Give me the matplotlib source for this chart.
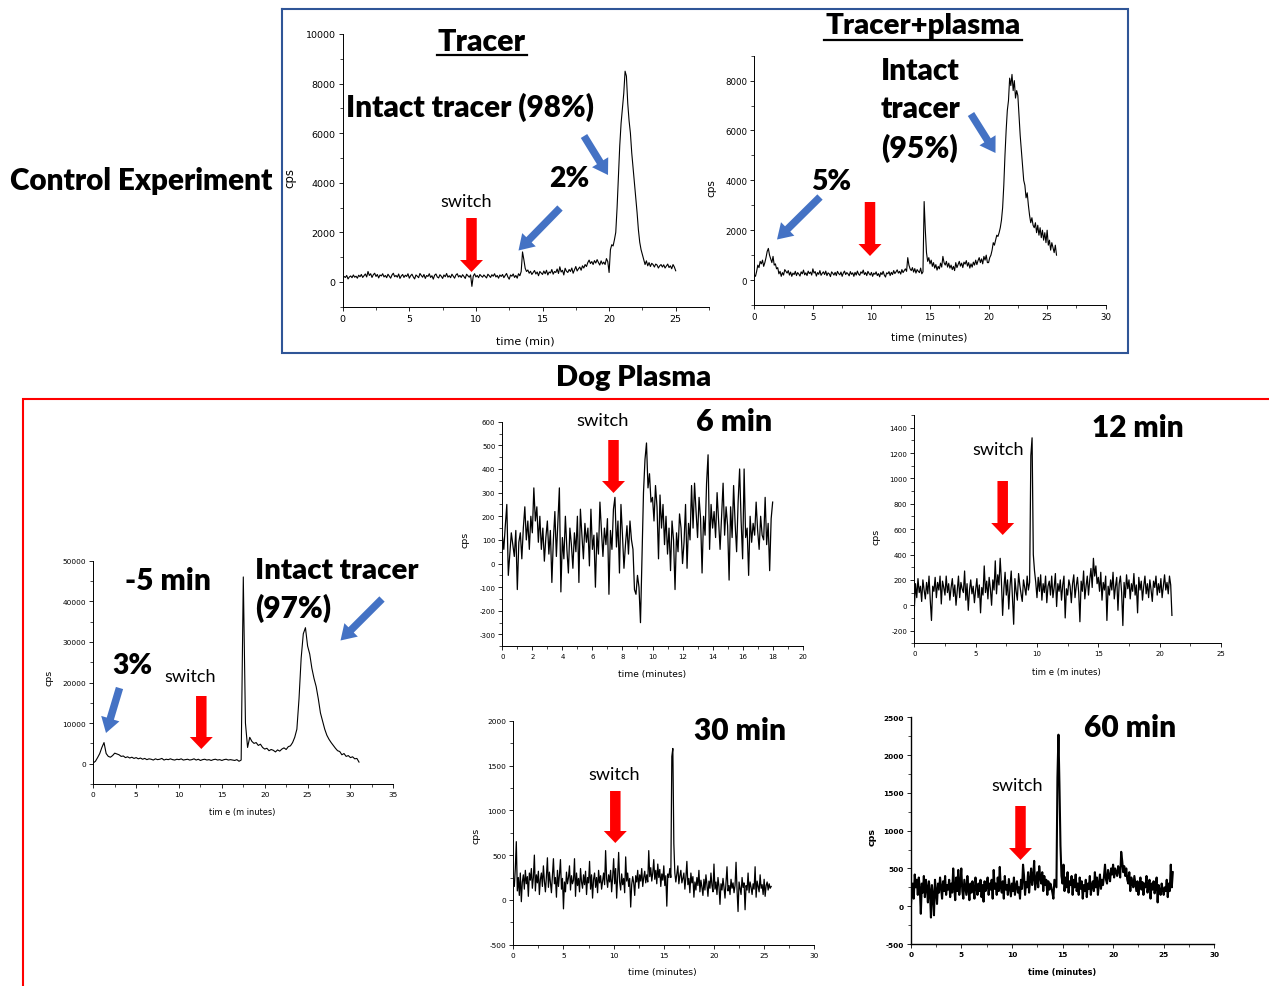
import numpy as np
import matplotlib
matplotlib.use("Agg")
import matplotlib.pyplot as plt
from matplotlib.ticker import MultipleLocator, FormatStrFormatter
from matplotlib.patches import FancyArrow

# ---------------------------------------------------------------- data
# Radio-chromatograms, counts per second sampled on a regular time grid.

tracer_step = 0.1
tracer_cps = [
    150, 220, 180, 260, 120, 200, 240, 170, 280, 190,
    230, 150, 270, 210, 300, 180, 250, 320, 200, 420,
    260, 330, 180, 290, 350, 220, 300, 160, 280, 240,
    330, 200, 260, 170, 310, 230, 150, 280, 350, 210,
    260, 190, 320, 140, 240, 300, 180, 270, 220, 330,
    150, 250, 310, 200, 120, 280, 230, 170, 340, 260,
    190, 300, 140, 260, 220, 330, 180, 250, 110, 270,
    320, 200, 160, 290, 230, 140, 280, 210, 340, 190,
    250, 170, 310, 230, 150, 280, 330, 200, 260, 180,
    290, 220, 140, 310, 250, 190, 280, -180, 230, 330,
    200, 260, 170, 300, 240, 190, 280, 220, 160, 310,
    250, 180, 290, 230, 330, 200, 260, 150, 280, 220,
    300, 170, 260, 340, 200, 110, 280, 230, 320, 180,
    260, 150, 330, 250, 420, 1210, 900, 550, 420, 480,
    350, 430, 300, 380, 460, 320, 400, 250, 420, 360,
    300, 440, 330, 470, 280, 400, 360, 500, 310, 420,
    380, 520, 340, 610, 400, 470, 280, 550, 430, 380,
    500, 420, 560, 350, 480, 620, 440, 530, 600, 470,
    650, 560, 700, 620, 780, 880, 740, 820, 700, 860,
    760, 900, 780, 680, 850, 720, 800, 700, 940, 820,
    380, 1300, 1500, 1450, 1700, 2000, 3000, 4300, 5500, 6400,
    7000, 7600, 8500, 8300, 7200, 6500, 6000, 5200, 4600, 4000,
    3400, 2800, 2100, 1600, 1300, 1100, 900, 700, 850, 650,
    780, 620, 750, 700, 600, 720, 680, 560, 650, 700,
    600, 690, 560, 640, 720, 580, 650, 530, 700, 600,
    450,
]

plasma_mix_step = 0.1
plasma_mix_cps = [
    200, 150, 350, 600, 500, 750, 650, 800, 550, 700,
    900, 1150, 1270, 1000, 850, 700, 950, 600, 650, 450,
    500, 250, 350, 150, 300, 200, 420, 350, 280, 380,
    200, 320, 150, 280, 220, 350, 180, 300, 240, 160,
    330, 250, 400, 210, 290, 180, 360, 260, 320, 200,
    450, 280, 340, 160, 300, 230, 380, 190, 270, 330,
    220, 360, 180, 290, 250, 140, 330, 270, 200, 310,
    180, 350, 260, 210, 320, 150, 280, 360, 220, 300,
    250, 170, 340, 230, 290, 150, 310, 200, 360, 240,
    190, 330, 270, 400, 220, 300, 180, 350, 260, 200,
    310, 150, 280, 230, 330, 180, 260, 130, 300, 220,
    350, 200, 120, 290, 250, 340, 180, 310, 220, 380,
    260, 330, 410, 280, 350, 240, 420, 300, 380, 450,
    350, 900, 600, 450, 380, 500, 320, 460, 280, 420,
    350, 300, 480, 250, 330, 3150, 2000, 1100, 750, 900,
    650, 800, 550, 700, 480, 620, 400, 550, 450, 680,
    520, 950, 700, 600, 750, 520, 680, 480, 600, 420,
    550, 380, 700, 500, 620, 750, 560, 680, 500, 720,
    640, 780, 560, 700, 480, 650, 520, 720, 600, 800,
    620, 780, 900, 700, 850, 650, 950, 800, 1000, 700,
    700, 900, 1000, 1200, 1500, 1400, 1600, 1800, 1750, 1900,
    2100, 2400, 2900, 3800, 5000, 6000, 6800, 7200, 8100, 7800,
    8250, 7600, 8000, 7300, 7600, 7400, 6600, 5800, 5200, 4600,
    4000, 3800, 3300, 3500, 3000, 2600, 2300, 2500, 2200, 2100,
    2300, 1900, 2200, 1800, 2100, 1700, 2000, 1600, 1900, 1500,
    2000, 1400, 1600, 1200, 1500, 1300, 1100, 1400, 1000,
]

dog_m5_step = 0.25
dog_m5_cps = [
    200, 600, 1500, 2500,
    4000, 5200, 2500, 1800,
    1600, 2000, 2600, 2400,
    2200, 1800, 1900, 1500,
    1700, 1400, 1600, 1300,
    1500, 1200, 1400, 1100,
    1300, 1000, 1200, 1100,
    900, 1200, 1000, 1100,
    1300, 900, 1100, 1000,
    1200, 1000, 900, 1100,
    1000, 1200, 900, 1000,
    1100, 900, 1000, 1200,
    900, 1100, 800, 1000,
    1100, 900, 1000, 800,
    1000, 1100, 900, 1000,
    800, 1000, 1100, 900,
    1000, 900, 800, 1000,
    600, 900, 46000, 10000,
    4000, 6500, 5500, 5000,
    5200, 4500, 4800, 4000,
    3600, 3800, 3200, 3500,
    3300, 2900, 3400, 3100,
    3600, 3900, 3500, 4200,
    4400, 5200, 6500, 8500,
    16000, 26000, 32000, 33500,
    29000, 27000, 23500, 21000,
    19000, 16000, 12500, 10500,
    8500, 7000, 6000, 5200,
    4500, 3800, 3200, 3000,
    2200, 2500, 1800, 2000,
    1500, 1700, 1200, 1300,
    400,
]

dog_6_step = 0.1
dog_6_cps = [
    120, 60, 160, 250, -50, 40, 130, 80, 30, 140,
    -110, 90, 130, 20, 150, 240, 100, 180, 60, 200,
    130, 320, 180, 240, 90, 200, 60, 150, 10, 110,
    180, 40, 140, -80, 100, 220, 30, 170, 320, -120,
    110, 20, 200, 60, -40, 150, 80, -20, 130, 50,
    200, -80, 230, 120, 20, 170, 90, 150, -10, 230,
    60, 120, -100, 130, 40, 260, 140, 30, 150, 80,
    190, -130, 140, 60, 230, 280, 70, 180, -40, 250,
    120, -20, 80, 160, 40, 180, 100, 60, -110, -130,
    -50, -100, -250, 20, 300, 440, 510, 320, 380, 260,
    280, 180, 330, 240, 20, 290, 150, 250, 80, 200,
    40, 150, -30, 180, 100, -110, 130, 50, 210, 150,
    0, 90, 250, -20, 170, 100, 330, 150, 340, 220,
    110, 280, 190, -40, 200, 120, 340, 460, 60, 250,
    150, 220, 110, 300, 180, 60, 200, 340, 120, 240,
    160, -70, 240, 110, 330, 170, 50, 260, 400, 180,
    20, 400, 110, 150, -50, 200, 90, 170, 120, 260,
    140, 60, 200, 120, 100, 280, 80, 170, -30, 190,
    260,
]

dog_12_step = 0.1
dog_12_cps = [
    -30, 170, 60, 210, 100, 150, 30, 200, 120, 50,
    180, 90, 230, 40, -120, 150, 110, 220, 60, 180,
    120, 230, 10, 190, 140, 80, 230, 100, 170, 40,
    140, 210, 70, 160, 0, 110, 230, 60, 180, 130,
    100, 270, 40, 170, -40, 120, 200, 90, 150, 20,
    120, 210, 60, 160, -60, 140, 80, 310, 100, 190,
    50, 220, 130, 0, 200, 120, 350, 90, 240, 160,
    370, 190, -80, 130, 260, 80, 200, -30, 150, 270,
    60, -150, 210, 110, 40, 250, 160, 90, 30, 200,
    140, 80, 230, 120, 180, 1180, 1320, 400, 270, 180,
    60, 220, 110, 240, 40, 170, 100, 230, 20, 150,
    190, 80, 230, 60, 140, 250, -10, 170, 110, 200,
    40, 160, 230, -100, 130, 80, 200, 150, 20, 170,
    240, 60, 150, 220, 100, -130, 190, 110, 270, 50,
    150, 230, 80, 200, 290, 140, 370, 230, 310, 170,
    220, 110, 260, 40, 180, 120, 230, -120, 150, 80,
    200, 120, 260, 50, 150, 220, -40, 170, 230, 100,
    -160, 180, 60, 240, 130, 200, 50, 170, 110, 250,
    80, 160, -60, 220, 120, 190, 40, 150, 230, 90,
    170, 60, 200, 120, 30, 190, 140, 230, 80, 170,
    100, 210, 60, 150, 240, 120, 180, 90, 230, 160,
    -80,
]

dog_30_step = 0.1
dog_30_cps = [
    200, 150, 350, 650, 100, 250, 50, 300, -20, 200,
    280, 120, 330, 180, 260, 40, 300, 220, 350, 130,
    250, 500, 100, 280, 190, 320, 60, 230, 300, 150,
    380, 210, 90, 260, 470, 140, 310, 200, 80, 270,
    460, 180, 250, 30, 330, 150, 280, 450, 120, 240,
    -100, 200, 90, 310, 180, 250, 380, 110, 270, 180,
    220, 460, 40, 300, 160, 240, 90, 350, 200, 130,
    280, 170, 320, 60, 250, 190, 430, 120, 280, 20,
    230, 300, 140, 250, 80, 330, 190, 270, 120, 210,
    300, 170, 550, 240, 140, 280, 200, 330, 90, 250,
    460, 180, 350, 20, 260, 530, 200, 110, 290, 170,
    240, 80, 480, 210, 300, 150, 240, -80, 170, 260,
    190, 50, 270, 200, 330, 130, 280, 210, 350, 150,
    250, 320, 190, 280, 200, 550, 260, 360, 210, 300,
    450, 230, 330, 180, 400, 250, 340, 150, 290, 220,
    380, 160, 270, -70, 290, 250, 350, 250, 1600, 1690,
    630, 300, 200, 290, 380, 180, 270, 330, 190, 240,
    300, 120, 250, 430, 170, 240, 80, 300, 190, 260,
    30, 200, 110, 250, 160, 330, 90, 220, 140, 50,
    230, 110, 280, 170, 40, 210, 130, 300, 160, 90,
    400, 120, 200, 60, 250, 150, -50, 180, 110, 240,
    140, 20, 200, 370, 100, 160, 60, 230, 130, 190,
    80, 160, 420, 110, -130, 200, 130, 60, 250, 140,
    190, -110, 160, 110, 300, 80, 200, 140, 60, 180,
    120, 370, 30, 210, 150, 90, 280, 130, 170, 60,
    230, 40, 160, 200, 110, 180, 130, 150,
]

dog_60_step = 0.1
dog_60_cps = [
    -50, 200, 300, 100, 420, 250, 350, 150, 380, 230,
    -100, 300, 180, 400, 120, 350, 250, 50, 330, 200,
    -150, 280, 150, -120, 350, 200, 30, 300, 180, 380,
    250, 100, 330, 200, 400, 150, 280, 220, 350, 120,
    300, 180, 500, 250, 80, 380, 200, 480, 150, 300,
    500, 200, 100, 350, 250, 150, 400, 220, 80, 300,
    180, 330, 230, 100, 380, 250, 150, 300, 200, 350,
    120, 280, 60, 330, 200, 250, 380, 150, 300, 220,
    350, 100, 480, 230, 300, 150, 380, 200, 520, 250,
    180, 330, 100, 400, 220, 280, 150, 360, 250, 130,
    300, 200, 380, 150, 270, 330, 180, 250, 100, 350,
    230, 550, 400, 150, 320, 250, 450, 180, 350, 500,
    280, 380, 600, 220, 330, 450, 250, 530, 380, 300,
    450, 200, 400, 280, 350, 150, 330, 220, 300, 250,
    180, 100, 350, 300, 250, 1700, 2270, 1600, 800, 400,
    300, 550, 200, 380, 250, 450, 180, 330, 280, 400,
    150, 350, 250, 420, 200, 300, 150, 380, 230, 330,
    100, 280, 200, 350, 120, 300, 230, 400, 150, 280,
    330, 200, 450, 250, 380, 150, 300, 420, 230, 350,
    280, 400, 550, 350, 300, 480, 400, 330, 500, 420,
    550, 380, 500, 450, 400, 530, 470, 380, 720, 600,
    450, 530, 400, 500, 350, 300, 450, 200, 380, 300,
    250, 400, 300, 200, 330, 150, 280, 380, 220, 320,
    150, 300, 250, 400, 180, 280, 350, 100, 300, 220,
    330, 170, 250, 380, 50, 280, 200, 150, 300, 220,
    150, 250, 200, 350, 120, 300, 200, 550, 250, 450,
]

# ---------------------------------------------------------------- figure
W, H = 1269, 987
fig = plt.figure(figsize=(W / 100, H / 100), dpi=100)
fig.patch.set_facecolor("white")

BOLD_FONT = ["Lato", "DejaVu Sans"]
TICK_FONT = ["DejaVu Sans"]
RED = "#FF0000"
BLUE = "#4472C4"


def px_axes(left, top, right, bottom):
    return fig.add_axes([left / W, 1 - bottom / H, (right - left) / W, (bottom - top) / H])


fit_items = []

panels = [
    dict(t=tracer_step, y=tracer_cps, rect=(342.7, 35, 709, 307.7),
         xlim=(0, 27.5), ylim=(-1000, 10000), xmaj=5, xmin=2.5, ymaj=2000, ymin=1000,
         lw=0.8, tfs=6.8, xlabel="time (min)", xl=(496, 555, 342), yl=(290, 178), yfs=8.5, bold=False),
    dict(t=plasma_mix_step, y=plasma_mix_cps, rect=(754.3, 56.7, 1105.7, 306),
         xlim=(0, 30), ylim=(-1000, 9000), xmaj=5, xmin=2.5, ymaj=2000, ymin=1000,
         lw=0.8, tfs=6.2, xlabel="time (minutes)", xl=(891, 968, 338), yl=(711, 188), yfs=7.5, bold=False),
    dict(t=dog_m5_step, y=dog_m5_cps, rect=(93.3, 561.7, 393.3, 785),
         xlim=(0, 35), ylim=(-5000, 50000), xmaj=5, xmin=2.5, ymaj=10000, ymin=5000,
         lw=0.8, tfs=5.3, xlabel="tim e (m inutes)", xl=(209, 276, 813), yl=(49, 678), yfs=6.8, bold=False),
    dict(t=dog_6_step, y=dog_6_cps, rect=(502.3, 422.7, 802.7, 647.3),
         xlim=(0, 20), ylim=(-350, 600), xmaj=2, xmin=1, ymaj=100, ymin=50,
         lw=0.9, tfs=5.0, xlabel="time (minutes)", xl=(618, 686, 675), yl=(465, 540), yfs=6.8, bold=False),
    dict(t=dog_12_step, y=dog_12_cps, rect=(914.3, 416, 1221, 644.3),
         xlim=(0, 25), ylim=(-300, 1500), xmaj=5, xmin=2.5, ymaj=200, ymin=100,
         lw=0.9, tfs=5.0, xlabel="tim e (m inutes)", xl=(1032, 1101, 673), yl=(876, 537), yfs=6.8, bold=False),
    dict(t=dog_30_step, y=dog_30_cps, rect=(513.3, 721.7, 814.3, 945.7),
         xlim=(0, 30), ylim=(-500, 2000), xmaj=5, xmin=2.5, ymaj=500, ymin=250,
         lw=0.9, tfs=5.3, xlabel="time (minutes)", xl=(628, 697, 973), yl=(476, 836), yfs=6.8, bold=False),
    dict(t=dog_60_step, y=dog_60_cps, rect=(910.7, 718.3, 1214.3, 945),
         xlim=(0, 30), ylim=(-500, 2500), xmaj=5, xmin=2.5, ymaj=500, ymin=250,
         lw=1.5, tfs=5.3, xlabel="time (minutes)", xl=(1028, 1096, 973), yl=(872, 837), yfs=6.8, bold=True),
]

for p in panels:
    ax = px_axes(*p["rect"])
    cps = np.asarray(p["y"], dtype=float)
    t = np.arange(len(cps)) * p["t"]
    ax.plot(t, cps, color="black", lw=p["lw"])
    ax.set_xlim(*p["xlim"])
    ax.set_ylim(*p["ylim"])
    for s in ("top", "right"):
        ax.spines[s].set_visible(False)
    for s in ("left", "bottom"):
        ax.spines[s].set_linewidth(1.0 if p["bold"] else 0.7)
    ax.xaxis.set_major_locator(MultipleLocator(p["xmaj"]))
    ax.xaxis.set_minor_locator(MultipleLocator(p["xmin"]))
    ax.yaxis.set_major_locator(MultipleLocator(p["ymaj"]))
    ax.yaxis.set_minor_locator(MultipleLocator(p["ymin"]))
    ax.xaxis.set_major_formatter(FormatStrFormatter("%d"))
    ax.yaxis.set_major_formatter(FormatStrFormatter("%d"))
    ax.tick_params(which="major", direction="out", length=3, width=0.6, pad=2,
                   labelsize=p["tfs"])
    ax.tick_params(which="minor", direction="out", length=2, width=0.5)
    weight = "bold" if p["bold"] else "normal"
    for lab in ax.get_xticklabels() + ax.get_yticklabels():
        lab.set_family(TICK_FONT)
        lab.set_fontweight(weight)
    ax.patch.set_alpha(0)

    l, tp, r, b = p["rect"]
    x0, x1, yx = p["xl"]
    ax.set_xlabel(p["xlabel"], family=TICK_FONT, fontsize=7, fontweight=weight)
    ax.xaxis.set_label_coords(((x0 + x1) / 2 - l) / (r - l), (b - yx) / (b - tp))
    ax.xaxis.label.set_verticalalignment("center")
    fit_items.append((ax.xaxis.label, x1 - x0))
    ax.set_ylabel("cps", family=TICK_FONT, fontsize=p["yfs"], fontweight=weight)
    ax.yaxis.set_label_coords((p["yl"][0] - l) / (r - l), (b - p["yl"][1]) / (b - tp))
    ax.yaxis.label.set_verticalalignment("center")

# ---------------------------------------------------------------- overlay (pixel coordinates)
ov = fig.add_axes([0, 0, 1, 1], zorder=10)
ov.set_xlim(0, W)
ov.set_ylim(H, 0)
ov.axis("off")
ov.patch.set_alpha(0)

# group frames
ov.plot([282, 1128, 1128, 282, 282], [10, 10, 354, 354, 10], color="#2F5597", lw=1.5,
        solid_joinstyle="miter")
ov.plot([1269, 23, 23], [400, 400, 987], color=RED, lw=1.5, solid_joinstyle="miter")


def label(s, x0, x1, yc, size, weight="heavy", ha="center", fit=True):
    x = (x0 + x1) / 2 if ha == "center" else x0
    txt = ov.text(x, yc, s, ha=ha, va="center", fontsize=size, fontweight=weight,
                  family=BOLD_FONT, color="black")
    if fit:
        fit_items.append((txt, x1 - x0))
    return txt


label("Control Experiment", 10, 272, 181, 19)
label("Dog Plasma", 556, 712, 378, 17)
label("Tracer", 438, 526, 42, 20)
label("Tracer+plasma", 825, 1021, 26, 20)
label("Intact tracer (98%)", 346, 594, 107, 20)
label("2%", 549, 589, 179, 20)
label("Intact", 881, 960, 71, 20, ha="left")
label("tracer", 881, 961, 109, 20, ha="left")
label("(95%)", 881, 958, 148, 20, ha="left")
label("5%", 811, 851, 182, 20)
label("-5 min", 125, 211, 581, 20)
label("Intact tracer", 255, 419, 571, 20, ha="left")
label("(97%)", 255, 331, 608, 20, ha="left")
label("3%", 112, 152, 666, 20)
label("6 min", 696, 772, 422, 20)
label("12 min", 1092, 1184, 428, 20)
label("30 min", 694, 786, 731, 20)
label("60 min", 1084, 1176, 728, 20)
for x0, x1, yc in [(441, 492, 202), (165, 216, 677), (577, 629, 421), (973, 1024, 450),
                   (589, 640, 775), (992, 1043, 786)]:
    label("switch", x0, x1, yc, 12, weight="normal")

# underlines of the column titles
ov.plot([437, 527], [56, 56], color="black", lw=1.6)
ov.plot([824, 1022], [41, 41], color="black", lw=1.6)


def down_arrow(xc, ytop, ytip):
    ov.add_patch(FancyArrow(xc, ytop, 0, ytip - ytop, width=10.5, head_width=23,
                            head_length=12, length_includes_head=True,
                            color=RED, lw=0))


def blue_arrow(tail, tip):
    ov.add_patch(FancyArrow(tail[0], tail[1], tip[0] - tail[0], tip[1] - tail[1],
                            width=7.5, head_width=19, head_length=15,
                            length_includes_head=True, color=BLUE, lw=0))


for xc, ytop, ytip in [(471.5, 219, 273), (870, 203, 257), (201.3, 697, 750),
                       (613.5, 441, 494), (1002.7, 482, 536), (615.3, 792, 844),
                       (1020.5, 807, 861)]:
    down_arrow(xc, ytop, ytip)

for tail, tip in [((560, 209), (518.5, 251.5)), ((584, 137), (608, 176)),
                  ((971, 115), (995.5, 154)), ((820, 198), (777, 240.5)),
                  ((119.5, 689), (106, 734)), ((382, 600), (340.5, 641.5))]:
    blue_arrow(tail, tip)

# size text so each string spans its intended width
fig.canvas.draw()
renderer = fig.canvas.get_renderer()
for txt, width in fit_items:
    bb = txt.get_window_extent(renderer)
    if bb.width > 0:
        txt.set_fontsize(txt.get_fontsize() * width / bb.width)

fig.savefig("out.png", dpi=100, facecolor="white")
